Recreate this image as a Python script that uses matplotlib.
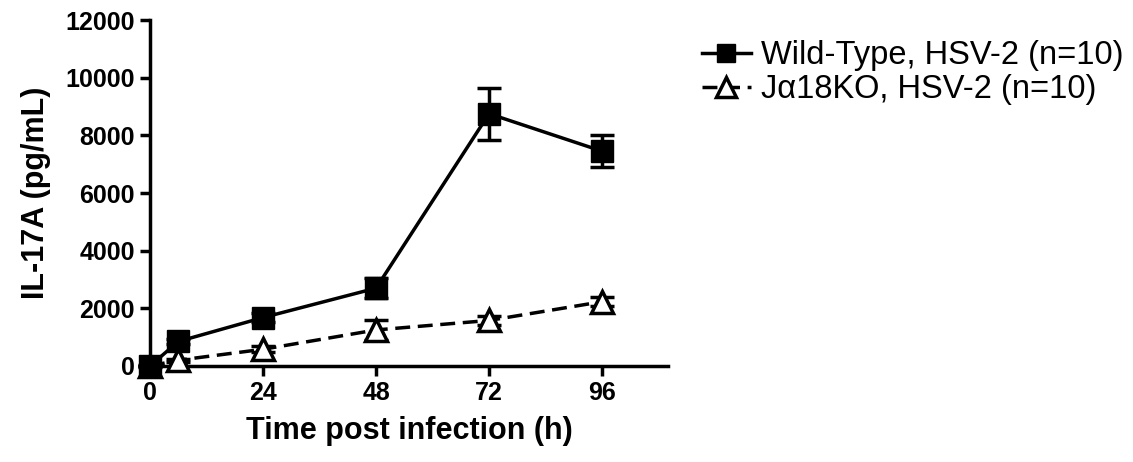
import matplotlib
matplotlib.use("Agg")
import matplotlib.pyplot as plt
from matplotlib.lines import Line2D

# hours post infection
hours = [0, 6, 24, 48, 72, 96]

# IL-17A (pg/mL), mean and SEM
wt_mean = [0, 850, 1680, 2700, 8750, 7450]
wt_sem = [20, 100, 150, 350, 900, 550]
ko_mean = [0, 200, 580, 1250, 1580, 2230]
ko_sem = [10, 50, 100, 350, 150, 150]

wt_label = "Wild-Type, HSV-2 (n=10)"
ko_label = "J\u03b118KO, HSV-2 (n=10)"

yticks = [0, 2000, 4000, 6000, 8000, 10000, 12000]
xticks = [0, 24, 48, 72, 96]

plt.rcParams["font.family"] = ["Liberation Sans", "DejaVu Sans"]

fig = plt.figure(figsize=(11.33, 4.62), dpi=100)
ax = fig.add_axes([0.1324, 0.2078, 0.4572, 0.7489])

lw = 2.5
dash = (0, (4.3, 2.2))
ax.errorbar(hours, wt_mean, yerr=wt_sem, color="black", lw=lw,
            marker="s", markersize=15.5, markerfacecolor="black",
            markeredgecolor="black", capsize=8.5, capthick=lw, elinewidth=lw,
            clip_on=False, zorder=4)
ax.errorbar(hours, ko_mean, yerr=ko_sem, color="black", lw=lw,
            linestyle=dash, marker="^", markersize=16,
            markerfacecolor="white", markeredgecolor="black",
            markeredgewidth=lw, capsize=8.5, capthick=lw, elinewidth=lw,
            clip_on=False, zorder=3)

ax.set_xlim(0, 110)
ax.set_ylim(0, 12000)
ax.set_xticks(xticks)
ax.set_yticks(yticks)

for side in ["top", "right"]:
    ax.spines[side].set_visible(False)
for side in ["left", "bottom"]:
    ax.spines[side].set_linewidth(lw)

ax.tick_params(axis="both", direction="out", length=7.5, width=lw,
               labelsize=18)
for lab in ax.get_xticklabels() + ax.get_yticklabels():
    lab.set_fontweight("bold")

ax.set_xlabel("Time post infection (h)", fontsize=22, fontweight="bold",
              labelpad=8)
ax.set_ylabel("IL-17A (pg/mL)", fontsize=22, fontweight="bold", labelpad=10)

# legend handles: plain line + marker, no error bars
handles = [
    Line2D([], [], color="black", lw=lw, marker="s", markersize=13,
           markerfacecolor="black"),
    Line2D([], [], color="black", lw=lw, linestyle=dash, marker="^",
           markersize=14, markerfacecolor="white", markeredgewidth=lw),
]
fig.legend(handles, [wt_label, ko_label], loc="upper left",
           bbox_to_anchor=(0.6196, 0.913), frameon=False, fontsize=23.5,
           handlelength=1.5, handletextpad=0.3, labelspacing=0.1,
           borderpad=0, borderaxespad=0)

fig.savefig("out.png", dpi=100)
